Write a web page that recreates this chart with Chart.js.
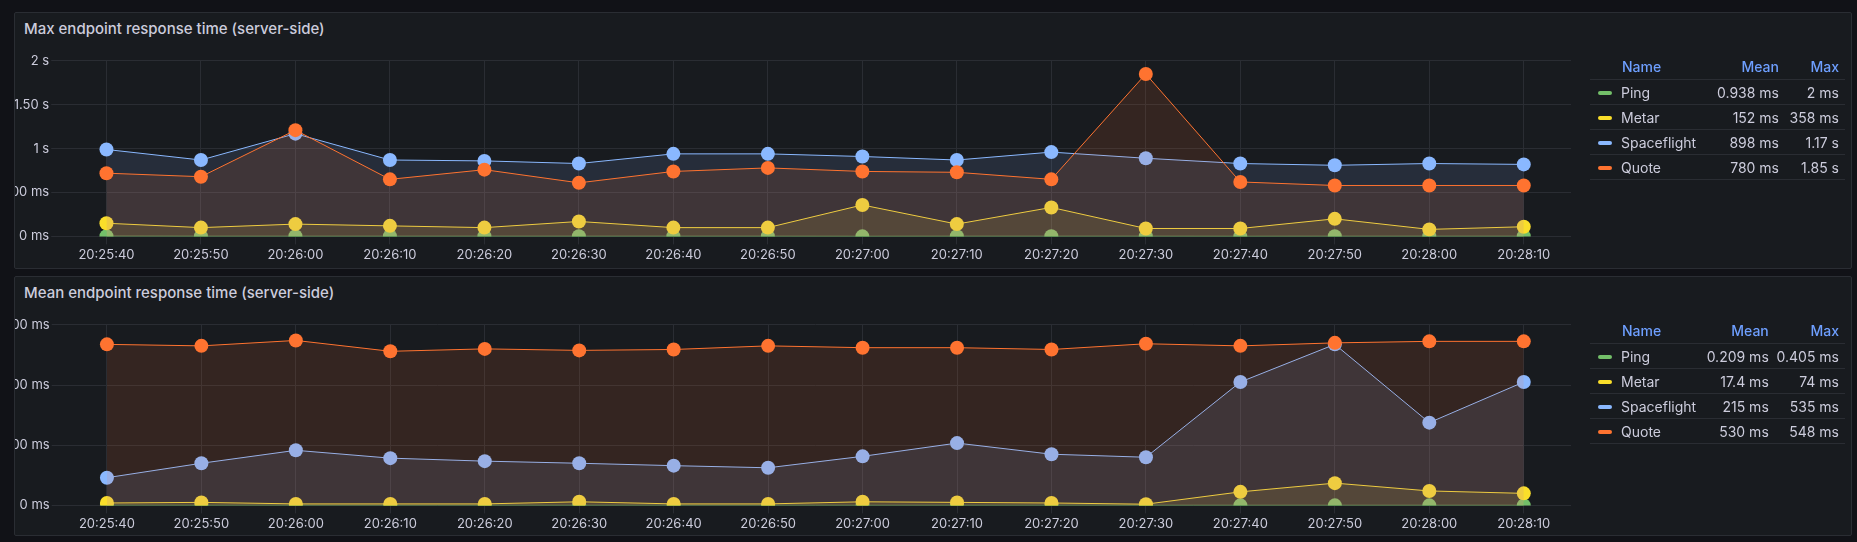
<!DOCTYPE html>
<html><head><meta charset="utf-8">
<script src="https://cdn.jsdelivr.net/npm/chart.js@4"></script>
<style>
body{margin:0;background:#111217;font-family:Inter,sans-serif;width:1857px;height:542px;overflow:hidden;position:relative}
.panel{position:absolute;left:14px;width:1838px;background:#181b1f;border:1px solid #2a2d33;border-radius:2px;box-sizing:border-box;overflow:hidden}
.title{position:absolute;left:9px;top:6px;color:#ccccdc;font-size:15px;font-weight:500}
.cw{position:absolute;left:-14px;top:38px;width:1590px}
.leg{position:absolute;left:1575px;top:42px;width:255px;border-collapse:collapse;font-size:14px;color:#ccccdc}
.leg th{color:#6e9fff;font-weight:500;text-align:right;padding:3px 6px 4px 0;border-bottom:1px solid #2a2d33}
.leg th:first-child{text-align:left;padding-left:32px}
.leg td{text-align:right;padding:4px 6px 3px 0;border-bottom:1px solid #2a2d33}
.leg td:first-child{text-align:left}
.sw{display:inline-block;width:14px;height:4px;border-radius:2px;margin:0 9px 3px 8px;vertical-align:middle}
</style></head><body>
<div class="panel" style="top:12px;height:257px"><div class="title">Max endpoint response time (server-side)</div>
<div class="cw" style="height:215px"><canvas id="c1"></canvas></div><table class="leg" id="l1"></table></div>
<div class="panel" style="top:276px;height:260px"><div class="title">Mean endpoint response time (server-side)</div>
<div class="cw" style="height:220px"><canvas id="c2"></canvas></div><table class="leg" id="l2"></table></div>
<script>
// ═══ DATI ═══
const labels = ['20:25:40','20:25:50','20:26:00','20:26:10','20:26:20','20:26:30','20:26:40','20:26:50','20:27:00','20:27:10','20:27:20','20:27:30','20:27:40','20:27:50','20:28:00','20:28:10'];
const names = ['Ping','Metar','Spaceflight','Quote'];
const colors = ['#73bf69','#fade2a','#8ab8ff','#ff7330'];
// max panel (ms)
const maxPing  = [2,1,1,1,1,1,1,1,0.5,1,1,1,0.5,1,1,1];
const maxMetar = [150,100,140,120,100,170,100,100,358,140,330,90,90,200,80,110];
const maxSpace = [990,870,1170,870,860,830,940,940,910,870,960,890,830,810,830,820];
const maxQuote = [720,680,1210,650,760,610,740,780,740,730,650,1850,620,580,580,580];
const maxLegend = [['0.938 ms','2 ms'],['152 ms','358 ms'],['898 ms','1.17 s'],['780 ms','1.85 s']];
// mean panel (ms)
const meanPing  = [0.3,0.2,0.2,0.2,0.2,0.2,0.2,0.2,0.2,0.2,0.2,0.2,0.2,0.2,0.2,0.2];
const meanMetar = [8,10,5,5,5,12,5,5,12,10,8,4,45,74,48,40];
const meanSpace = [92,140,183,157,147,140,132,125,163,207,170,160,410,535,275,410];
const meanQuote = [535,530,548,512,520,515,518,530,524,524,518,537,530,540,545,545];
const meanLegend = [['0.209 ms','0.405 ms'],['17.4 ms','74 ms'],['215 ms','535 ms'],['530 ms','548 ms']];

function fmtMax(v){ return v === 0 ? '0 ms' : v < 1000 ? v + ' ms' : (v === 1000 || v === 2000 ? v/1000 + ' s' : (v/1000).toFixed(2) + ' s'); }

function mkChart(id, series, max, step, fmt, top) {
  new Chart(document.getElementById(id), {
    type: 'line',
    data: { labels, datasets: series.map((s, i) => ({
      label: names[i], data: s, borderColor: colors[i], backgroundColor: colors[i] + '1f',
      fill: 'origin', borderWidth: 1, tension: 0, pointRadius: 7, pointHoverRadius: 7,
      pointBackgroundColor: colors[i], pointBorderWidth: 0, order: -i })) },
    options: { responsive: true, maintainAspectRatio: false, animation: false,
      plugins: { legend: { display: false }, tooltip: { enabled: false } },
      layout: { padding: { right: 20, top } },
      scales: {
        x: { offset: true, grid: { color: '#2a2d33', offset: false }, border: { display: false },
             ticks: { color: '#ccccdc', font: { family: 'Inter', size: 13 }, maxRotation: 0, autoSkip: false } },
        y: { min: 0, max, grid: { color: '#2a2d33' }, border: { display: false },
             ticks: { stepSize: step, padding: 2, color: '#ccccdc', font: { family: 'Inter', size: 13 }, callback: fmt } } } }
  });
}
function mkLegend(id, vals) {
  document.getElementById(id).innerHTML = '<tr><th>Name</th><th>Mean</th><th>Max</th></tr>' +
    names.map((n, i) => `<tr><td><span class="sw" style="background:${colors[i]}"></span>${n}</td><td>${vals[i][0]}</td><td>${vals[i][1]}</td></tr>`).join('');
}
mkChart('c1', [maxPing, maxMetar, maxSpace, maxQuote], 2000, 500, fmtMax, 8);
mkChart('c2', [meanPing, meanMetar, meanSpace, meanQuote], 600, 200, v => v + ' ms', 0);
mkLegend('l1', maxLegend);
mkLegend('l2', meanLegend);
</script></body></html>
